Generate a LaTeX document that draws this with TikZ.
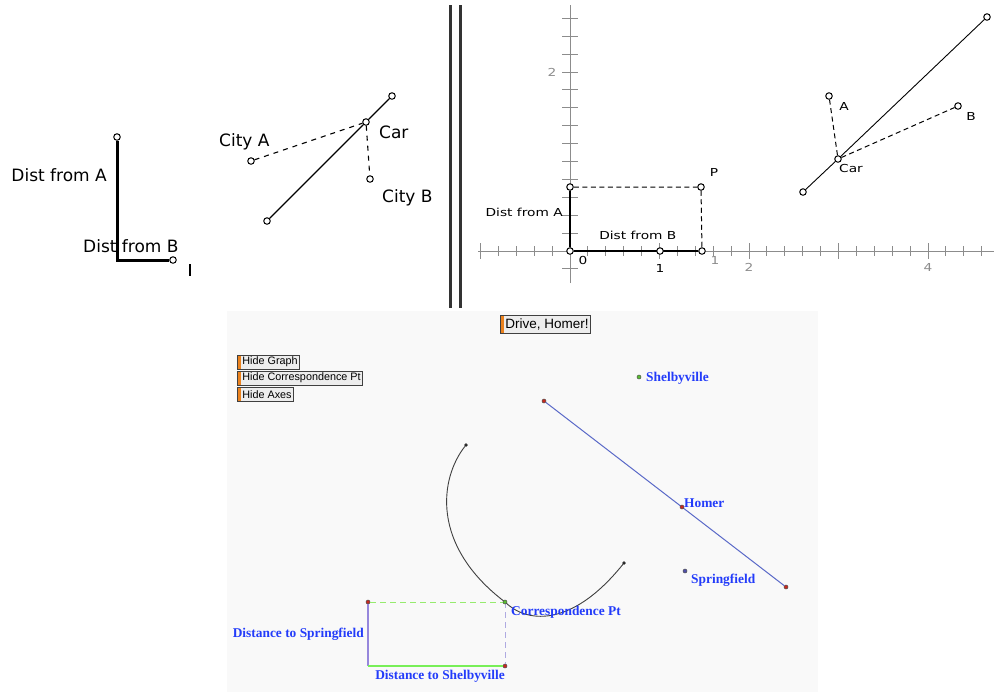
\documentclass[tikz,border=0pt]{standalone}
\usepackage{fontspec}
\usepackage{tikz}
\usepackage{xcolor}
\usetikzlibrary{calc}
\newfontfamily\macfont{DejaVu Sans}
\newfontfamily\uisans{Liberation Sans}
\newfontfamily\labserif{Liberation Serif}
\definecolor{labblue}{RGB}{35,60,250}
\definecolor{homerline}{RGB}{90,105,200}
\definecolor{ptred}{RGB}{200,40,30}
\definecolor{ptgreen}{RGB}{90,190,50}
\definecolor{ptblue}{RGB}{80,80,170}
\definecolor{lightgreen}{RGB}{150,235,110}
\definecolor{lavender}{RGB}{175,170,225}
\definecolor{purpline}{RGB}{150,135,220}
\definecolor{btnorange}{RGB}{235,130,30}
\tikzset{
  opt/.style={circle,draw,fill=white,inner sep=0pt,minimum size=6.5pt,line width=1pt},
  dot/.style={circle,draw=black!70,fill=#1,inner sep=0pt,minimum size=4pt,line width=0.5pt},
  biglab/.style={font=\macfont\fontsize{17}{19}\selectfont,inner sep=0pt},
  smlab/.style={font=\macfont\fontsize{11}{12}\selectfont,xscale=1.25,inner sep=0pt},
  ticklab/.style={smlab,text=black!45},
  axis/.style={black!45,line width=1pt},
  citylab/.style={font=\labserif\bfseries\fontsize{13.4}{15}\selectfont,text=labblue,inner sep=0pt},
  btn/.style={draw=black!75,fill=black!7,line width=0.8pt,anchor=west,
    font=\uisans\fontsize{#1}{#1}\selectfont,inner sep=1.5pt,inner xsep=2pt,
    path picture={\fill[btnorange] (path picture bounding box.south west)
      rectangle ([xshift=4pt]path picture bounding box.north west);}}
}
\begin{document}
\begin{tikzpicture}[x=1pt,y=-1pt]
    \useasboundingbox (0,0) rectangle (994,694);

    % first sketch: the two distances
    \node[opt] (tA) at (117,137) {};
    \coordinate (crn) at (117,260);
    \node[opt] (tB) at (173,260) {};
    \draw[line width=3pt] (tA) -- (crn) -- (tB);
    \node[biglab,anchor=east] (lA) at (107,175) {Dist from A};
    \node[biglab,anchor=west] (lB) at (83,246) {Dist from B};
    \coordinate (cur) at (190,264);
    \draw[line width=1.2pt] (cur) -- ++(0,12);

    % second sketch: the road
    \node[opt] (rd1) at (267,221) {};
    \node[opt] (rd2) at (392,96) {};
    \node[opt] (car) at (366,122) {};
    \node[opt] (cA) at (251,161) {};
    \node[opt] (cB) at (370,179) {};
    \draw[line width=1.1pt] (rd1) -- (car) -- (rd2);
    \draw[line width=1.1pt,dash pattern=on 5pt off 5pt] (cA) -- (car) -- (cB);
    \node[biglab,anchor=west] (lcA) at (219,142) {City A};
    \node[biglab,anchor=west] (lcar) at (379,132) {Car};
    \node[biglab,anchor=west] (lcB) at (382,198) {City B};

    % divider
    \foreach \dx in {450.5,460.5}{
        \draw[black!80,line width=2.5pt] (\dx,5) -- (\dx,308);
    }

    % third sketch: axes
    \coordinate (xl) at (478,251);
    \coordinate (xr) at (994,251);
    \coordinate (yb) at (570,283);
    \coordinate (yt) at (570,5);
    \draw[axis] (xl) -- (xr);
    \draw[axis] (yb) -- (yt);
    \foreach \i in {-5,...,23}{
        \pgfmathsetmacro\tx{570+17.9*\i}
        \pgfmathsetmacro\tl{ifthenelse(mod(\i,5)==0,8,5)}
        \draw[axis] (\tx,251-\tl) -- (\tx,251+\tl);
    }
    \foreach \i in {-1,...,13}{
        \pgfmathsetmacro\ty{251-17.9*\i}
        \draw[axis] (562,\ty) -- (578,\ty);
    }
    \node[ticklab] (ty2) at (552,72) {2};
    \node[ticklab] (tx1) at (715,260) {1};
    \node[ticklab] (tx2) at (749,267) {2};
    \node[ticklab] (tx4) at (928,267) {4};
    \node[smlab] (t0) at (583,260) {0};
    \node[smlab] (t1) at (660,268) {1};

    \node[opt] (org) at (570,251) {};
    \node[opt] (dA) at (570,187) {};
    \node[opt] (dB) at (702,251) {};
    \node[opt] (P) at (701,187) {};
    \draw[line width=2.5pt] (dA) -- (org) -- (dB);
    \node[opt] (one) at (660,251) {};
    \draw[line width=1pt,dash pattern=on 5pt off 3.5pt] (dA) -- (P) -- (dB);
    \node[smlab] (lP) at (714,172) {P};
    \node[smlab,anchor=east] (ldA) at (563,212) {Dist from A};
    \node[smlab,anchor=west] (ldB) at (599,235) {Dist from B};

    \node[opt] (r1) at (803,192) {};
    \node[opt] (r2) at (987,17) {};
    \node[opt] (car2) at (838,159) {};
    \node[opt] (A2) at (829,96) {};
    \node[opt] (B2) at (958,106) {};
    \draw[line width=0.9pt] (r1) -- (car2) -- (r2);
    \draw[line width=1pt,dash pattern=on 5pt off 3.5pt] (A2) -- (car2) -- (B2);
    \node[smlab] (lA2) at (844,106) {A};
    \node[smlab] (lB2) at (971,116) {B};
    \node[smlab] (lcar2) at (851,168) {Car};

    % bottom: the applet
    \fill[black!2.5] (227,311) rectangle (818,692);
    \node[btn=13.5,minimum height=18pt] (drive) at (500,324) {\hspace{3pt}Drive, Homer!};
    \node[btn=10.8,minimum height=14pt] (hgraph) at (237,362) {\hspace{3pt}Hide Graph};
    \node[btn=10.8,minimum height=14pt] (hcorr) at (237,378) {\hspace{3pt}Hide Correspondence Pt};
    \node[btn=10.8,minimum height=14pt] (haxes) at (237,394.5) {\hspace{3pt}Hide Axes};

    \node[dot=ptgreen] (shel) at (639,377) {};
    \node[dot=ptblue] (spr) at (685,571) {};
    \node[citylab,anchor=west] (lshel) at (646,378) {Shelbyville};
    \node[citylab,anchor=west] (lspr) at (691,580) {Springfield};

    \node[dot=ptred] (hs) at (544,401) {};
    \node[dot=ptred] (he) at (786,587) {};
    \draw[homerline,line width=1pt] (hs) -- (he);
    \node[dot=ptred] (homer) at (682,507) {};
    \node[citylab,anchor=west] (lhomer) at (684,503) {Homer};

    % graph
    \node[dot=black,minimum size=3pt] (g1) at (466,445) {};
    \node[dot=black,minimum size=3pt] (g2) at (624,563) {};
    \coordinate (cpt) at (505,602);
    \draw[black!75,line width=0.9pt] (g1) .. controls (440,478) and (430,545) .. (cpt)
        .. controls (525,622) and (570,630) .. (g2);

    \node[dot=ptred] (sp) at (368,602) {};
    \node[dot=ptred] (sh) at (505,666) {};
    \coordinate (o2) at (368,666);
    \draw[lightgreen,line width=1pt,dash pattern=on 6pt off 4pt] (sp) -- (cpt);
    \draw[lavender,line width=1pt,dash pattern=on 6pt off 4pt] (cpt) -- (sh);
    \draw[purpline,line width=1.6pt] (sp) -- (o2);
    \draw[lightgreen!80!green,line width=2.2pt] (o2) -- (sh);
    \node[dot=ptgreen] (cp) at (cpt) {};
    \node[citylab,anchor=east] (ldspr) at (364,634) {Distance to Springfield};
    \node[citylab,anchor=east] (ldshel) at (505,676) {Distance to Shelbyville};
    \node[citylab,anchor=west] (lcp) at (511,612) {Correspondence Pt};
\end{tikzpicture}
\end{document}
